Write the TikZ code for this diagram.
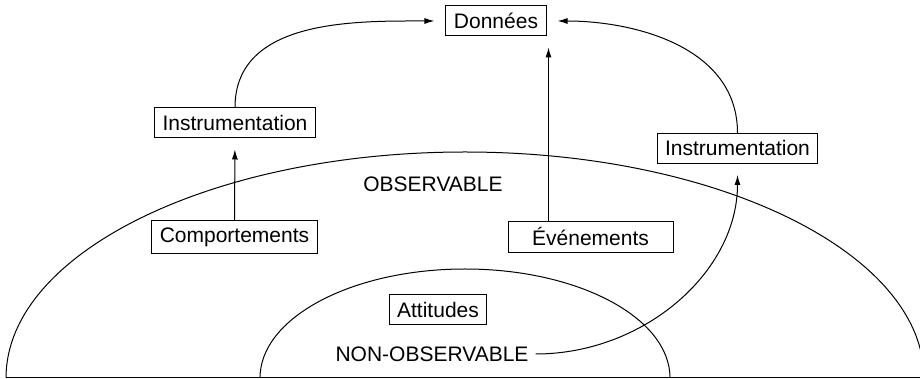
\documentclass[tikz,border=0pt]{standalone}
\usepackage{fontspec}
\setmainfont{Liberation Sans}
\usetikzlibrary{arrows.meta}

\begin{document}
\begin{tikzpicture}[x=0.5pt,y=0.5pt,line width=0.5pt,
	every node/.style={font=\fontsize{10.5}{12}\selectfont},
	boite/.style={draw,inner xsep=4pt,minimum height=15pt},
	fleche/.style={-{Latex[length=5pt,width=3pt]},shorten >=5.5pt}]

	\useasboundingbox (0,0) rectangle (920,379);

	% zones
	\draw (6,1) arc[start angle=180,end angle=0,x radius=459,y radius=226];
	\draw (260,1) arc[start angle=180,end angle=0,x radius=205,y radius=109];
	\draw (6,1) -- (920,1);

	\node[boite] (donnees) at (496,358) {Données};
	\node[boite] (instrG) at (235,256) {Instrumentation};
	\node[boite] (instrD) at (737.5,230.5) {Instrumentation};
	\node (obs) at (433,195) {OBSERVABLE};
	\node[boite,minimum width=82.5pt] (comport) at (234.5,142) {Comportements};
	\node[boite,minimum width=82.5pt] (evenements) at (590.5,142) {Événements};
	\node[boite] (attitudes) at (438,69.5) {Attitudes};
	\node (nonobs) at (432,25) {NON-OBSERVABLE};

	% fleches
	\draw[fleche] (comport) -- (instrG);
	\draw[fleche] (instrG.north) to[out=90,in=180] (donnees.west);
	\draw[fleche] ([xshift=-21pt]evenements.north) -- ([xshift=-21pt]evenements.north |- donnees.south);
	\draw[fleche] (instrD.north) to[out=90,in=0] (donnees.east);
	\draw[fleche] (nonobs.east) to[out=0,in=-90] (instrD.south);

\end{tikzpicture}
\end{document}
